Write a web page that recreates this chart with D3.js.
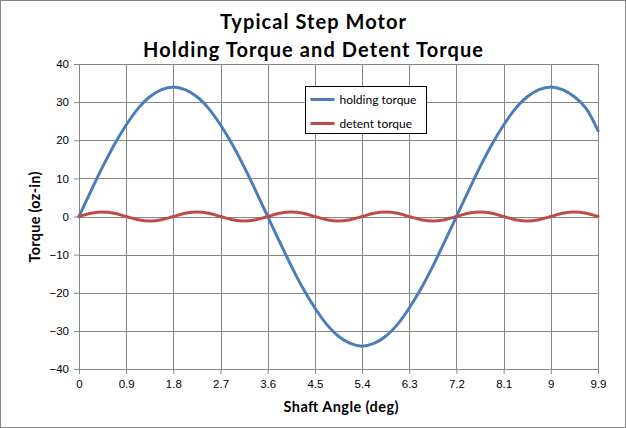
<!DOCTYPE html>
<html>
<head>
<meta charset="utf-8">
<script src="https://cdn.jsdelivr.net/npm/d3@7"></script>
<style>
  body { margin: 0; background: #fff; }
  svg { display: block; font-family: Lato, "Open Sans", sans-serif; }
</style>
</head>
<body>
<div id="chart"></div>
<script>
// shaft angle samples (deg)
var angles = [0, 0.225, 0.45, 0.675, 0.9, 1.125, 1.35, 1.575, 1.8, 2.025, 2.25, 2.475, 2.7, 2.925, 3.15, 3.375,
  3.6, 3.825, 4.05, 4.275, 4.5, 4.725, 4.95, 5.175, 5.4, 5.625, 5.85, 6.075, 6.3, 6.525, 6.75, 6.975,
  7.2, 7.425, 7.65, 7.875, 8.1, 8.325, 8.55, 8.775, 9, 9.225, 9.45, 9.675, 9.9];
var holdingTorque = [0, 6.6, 13.0, 18.9, 24.0, 28.3, 31.4, 33.3, 34, 33.3, 31.4, 28.3, 24.0, 18.9, 13.0, 6.6,
  0, -6.6, -13.0, -18.9, -24.0, -28.3, -31.4, -33.3, -34, -33.3, -31.4, -28.3, -24.0, -18.9, -13.0, -6.6,
  0, 6.6, 13.0, 18.9, 24.0, 28.3, 31.4, 33.3, 34, 33.3, 31.4, 28.3, 22.5];
var detentTorque = [0, 0.85, 1.2, 0.85, 0, -0.85, -1.2, -0.85, 0, 0.85, 1.2, 0.85, 0, -0.85, -1.2, -0.85,
  0, 0.85, 1.2, 0.85, 0, -0.85, -1.2, -0.85, 0, 0.85, 1.2, 0.85, 0, -0.85, -1.2, -0.85,
  0, 0.85, 1.2, 0.85, 0, -0.85, -1.2, -0.85, 0, 0.85, 1.2, 0.85, 0];
var xTicks = [0, 0.9, 1.8, 2.7, 3.6, 4.5, 5.4, 6.3, 7.2, 8.1, 9, 9.9];
var yTicks = [-40, -30, -20, -10, 0, 10, 20, 30, 40];
var seriesNames = ["holding torque", "detent torque"];
var seriesColors = ["#4A7EBB", "#BE4B48"];

var w = 626, h = 428,
    marginLeft = 79, marginRight = 28, marginTop = 64, marginBottom = 59,
    contentsWidth = w - marginLeft - marginRight, contentsHeight = h - marginTop - marginBottom;

var svg = d3.select("#chart").append("svg")
    .attr("width", w)
    .attr("height", h);

// outer frame
svg.append("rect")
    .attr("x", 0.5).attr("y", 0.5)
    .attr("width", w - 1).attr("height", h - 1)
    .attr("fill", "#fff").attr("stroke", "#868686");

var g = svg.append("g")
    .attr("transform", "translate(" + marginLeft + "," + marginTop + ")");

var xScale = d3.scaleLinear().domain([0, 9.9]).range([0, contentsWidth]);
var yScale = d3.scaleLinear().domain([-40, 40]).range([contentsHeight, 0]);

// gridlines
g.append("g").selectAll("line").data(xTicks).enter().append("line")
    .attr("x1", function(d) { return Math.round(xScale(d)) + 0.5; })
    .attr("x2", function(d) { return Math.round(xScale(d)) + 0.5; })
    .attr("y1", 0).attr("y2", contentsHeight)
    .attr("stroke", "#868686");
g.append("g").selectAll("line").data(yTicks).enter().append("line")
    .attr("x1", 0).attr("x2", contentsWidth)
    .attr("y1", function(d) { return Math.round(yScale(d)) + 0.5; })
    .attr("y2", function(d) { return Math.round(yScale(d)) + 0.5; })
    .attr("stroke", "#868686");

var xAxis = d3.axisBottom(xScale).tickValues(xTicks).tickSize(5).tickPadding(6)
    .tickFormat(function(d) { return String(d); });
var yAxis = d3.axisLeft(yScale).tickValues(yTicks).tickSize(5).tickPadding(5);

g.append("g")
    .attr("class", "x axis")
    .attr("transform", "translate(0," + contentsHeight + ")")
    .call(xAxis);
g.append("g")
    .attr("class", "y axis")
    .call(yAxis);

g.selectAll(".axis path, .axis line").attr("stroke", "#868686");
g.selectAll(".axis text").attr("font-size", "11.5px").attr("fill", "#000");

// series
var line = d3.line()
    .x(function(d) { return xScale(d[0]); })
    .y(function(d) { return yScale(d[1]); })
    .curve(d3.curveCatmullRom);

[holdingTorque, detentTorque].forEach(function(vals, i) {
  g.append("path")
      .datum(angles.map(function(a, j) { return [a, vals[j]]; }))
      .attr("d", line)
      .attr("fill", "none")
      .attr("stroke", seriesColors[i])
      .attr("stroke-width", 3)
      .attr("stroke-linecap", "round");
});

// legend
var legend = svg.append("g").attr("transform", "translate(305.5,86.5)");
legend.append("rect")
    .attr("width", 121).attr("height", 47)
    .attr("fill", "#fff").attr("stroke", "#000");
seriesNames.forEach(function(name, i) {
  var ly = 13 + i * 24;
  legend.append("line")
      .attr("x1", 5).attr("x2", 29).attr("y1", ly).attr("y2", ly)
      .attr("stroke", seriesColors[i]).attr("stroke-width", 3);
  legend.append("text")
      .attr("x", 34).attr("y", ly + 4)
      .attr("font-size", "12px")
      .text(name);
});

// titles
svg.append("text")
    .attr("x", 313).attr("y", 29)
    .attr("text-anchor", "middle")
    .attr("font-size", "20px").attr("font-weight", "bold")
    .attr("textLength", 186).attr("lengthAdjust", "spacing")
    .text("Typical Step Motor");
svg.append("text")
    .attr("x", 313).attr("y", 57)
    .attr("text-anchor", "middle")
    .attr("font-size", "20px").attr("font-weight", "bold")
    .attr("textLength", 340).attr("lengthAdjust", "spacing")
    .text("Holding Torque and Detent Torque");
svg.append("text")
    .attr("x", 341).attr("y", 412)
    .attr("text-anchor", "middle")
    .attr("font-size", "14.5px").attr("font-weight", "bold")
    .attr("textLength", 115).attr("lengthAdjust", "spacing")
    .text("Shaft Angle (deg)");
svg.append("text")
    .attr("transform", "translate(40,217) rotate(-90)")
    .attr("text-anchor", "middle")
    .attr("font-size", "14.5px").attr("font-weight", "bold")
    .attr("textLength", 91).attr("lengthAdjust", "spacing")
    .text("Torque (oz-in)");
</script>
</body>
</html>
